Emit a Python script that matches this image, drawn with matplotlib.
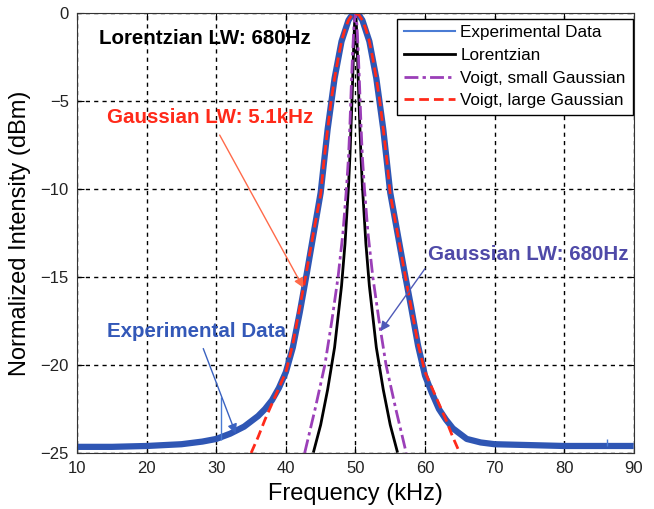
import matplotlib as mpl
mpl.use('Agg')
import matplotlib.pyplot as plt
from matplotlib.lines import Line2D

plt.rcParams['font.family'] = ['Liberation Sans', 'DejaVu Sans']

# experimental spectrum (center of the noisy trace)
exp_freq = [10, 15, 20, 25, 28, 30, 32, 34, 36, 37, 38, 39, 40, 41, 42, 43, 44, 45,
            46, 47, 48, 49, 49.5, 50, 50.5, 51, 52, 53, 54, 55, 56, 57, 58, 59, 60,
            61, 62, 63, 64, 66, 68, 70, 75, 80, 85, 90]
exp_db = [-24.65, -24.65, -24.6, -24.5, -24.35, -24.2, -23.9, -23.5, -22.9, -22.5, -22.0,
          -21.3, -20.4, -19.0, -17.0, -14.8, -12.5, -10.2, -6.6, -3.7, -1.6, -0.4, -0.1,
          0.0, -0.1, -0.4, -1.6, -3.7, -6.6, -10.2, -12.4, -14.6, -16.7, -18.9, -20.6,
          -21.6, -22.5, -23.1, -23.6, -24.2, -24.4, -24.5, -24.55, -24.6, -24.6, -24.6]
spike_freq = [30.7, 86.2]
spike_top = [-21.8, -24.2]
spike_base = [-24.25, -24.6]

# Voigt, large Gaussian (LW 5.1 kHz)
red_freq = [35, 36, 37, 38, 39, 40, 41, 42, 43, 44, 45, 45.5, 46, 46.5, 47, 47.5, 48,
            48.5, 49, 49.5, 50, 50.5, 51, 51.5, 52, 52.5, 53, 53.5, 54, 54.5, 55, 56,
            57, 58, 59, 60, 61, 62, 63, 64, 65]
red_db = [-25.0, -24.1, -23.1, -22.2, -21.3, -20.4, -18.8, -16.7, -14.6, -12.4, -10.3,
          -8.3, -6.6, -5.0, -3.7, -2.6, -1.6, -0.9, -0.4, -0.1, 0.0, -0.1, -0.4, -0.9,
          -1.6, -2.6, -3.7, -5.0, -6.6, -8.3, -10.3, -12.4, -14.6, -16.7, -18.8, -20.4,
          -21.3, -22.2, -23.1, -24.1, -25.0]

# Lorentzian (LW 680 Hz)
lor_freq = [44.0, 45.0, 46.0, 47.0, 48.0, 48.5, 49.0, 49.2, 49.5, 49.7, 49.8, 49.9, 50.0,
            50.1, 50.2, 50.3, 50.5, 50.8, 51.0, 51.5, 52.0, 53.0, 54.0, 55.0, 56.0]
lor_db = [-24.9, -23.4, -21.4, -19.0, -15.5, -13.1, -9.85, -8.2, -5.0, -2.5, -1.3, -0.36,
          0.0, -0.36, -1.3, -2.5, -5.0, -8.2, -9.85, -13.1, -15.5, -19.0, -21.4, -23.4,
          -24.9]

# Voigt, small Gaussian
vs_freq = [42.7, 44.2, 45.6, 46.6, 47.5, 48.2, 48.7, 49.0, 49.2, 49.4, 49.6, 49.8, 50.0,
           50.2, 50.4, 50.6, 50.8, 51.0, 51.3, 51.8, 52.5, 53.4, 54.4, 55.8, 57.3]
vs_db = [-25.0, -22.5, -20.0, -17.5, -15.0, -12.5, -10.0, -8.2, -6.4, -4.2, -2.2, -0.6,
         0.0, -0.6, -2.2, -4.2, -6.4, -8.2, -10.0, -12.5, -15.0, -17.5, -20.0, -22.5,
         -25.0]

blue = '#2f56b4'

fig = plt.figure(figsize=(6.54, 5.09), dpi=100)
ax = fig.add_subplot(111)
plt.subplots_adjust(left=0.118, right=0.969, bottom=0.110, top=0.974)

ax.plot(exp_freq, exp_db, color=blue, linewidth=4.5, solid_capstyle='butt')
ax.vlines(spike_freq, spike_base, spike_top, color='#4a7bd4', linewidth=1)
ax.plot(lor_freq, lor_db, color='black', linewidth=2)
ax.plot(vs_freq, vs_db, color='#9b3fb8', linewidth=2, linestyle=(0, (5, 1.5, 1.2, 1.5)))
ax.plot(red_freq, red_db, color='#ff2a1a', linewidth=2, linestyle=(0, (3.5, 1.8)))

ax.set_xlim(10, 90)
ax.set_ylim(-25, 0)
ax.set_xticks(range(10, 91, 10))
ax.set_yticks(range(-25, 1, 5))
ax.grid(True, color='black', linestyle=(0, (3, 3)), linewidth=1)
ax.tick_params(direction='in', top=True, right=True, labelsize=12, length=5, pad=6,
               labelcolor='#222222')
for s in ax.spines.values():
    s.set_color('#333333')

ax.set_xlabel('Frequency (kHz)', fontsize=17, labelpad=5)
ax.set_ylabel('Normalized Intensity (dBm)', fontsize=17, labelpad=7)

handles = [Line2D([], [], color='#4a7bd4', linewidth=1.5),
           Line2D([], [], color='black', linewidth=2),
           Line2D([], [], color='#9b3fb8', linewidth=2, linestyle=(0, (5, 1.5, 1.2, 1.5))),
           Line2D([], [], color='#ff2a1a', linewidth=2, linestyle=(0, (3.5, 1.8)))]
labels = ['Experimental Data', 'Lorentzian', 'Voigt, small Gaussian', 'Voigt, large Gaussian']
leg = ax.legend(handles, labels, loc='upper right', bbox_to_anchor=(0.998, 0.988),
                fontsize=12.3, fancybox=False, edgecolor='black', framealpha=1,
                handlelength=3.0, borderaxespad=0, labelspacing=0.45,
                handletextpad=0.3, borderpad=0.4)
leg.get_frame().set_linewidth(1)

ax.text(13.1, -1.45, 'Lorentzian LW: 680Hz', fontsize=14.8, fontweight='bold',
        color='black', ha='left', va='center')
ax.annotate('Gaussian LW: 5.1kHz', xy=(42.5, -15.6), xytext=(14.3, -5.95),
            fontsize=14.8, fontweight='bold', color='#ff2a1a', ha='left', va='center',
            arrowprops=dict(arrowstyle='-|>', color='#ff6a4a', lw=1,
                            mutation_scale=14, shrinkA=4, shrinkB=0))
ax.annotate('Experimental Data', xy=(32.8, -23.9), xytext=(14.3, -18.07),
            fontsize=14.8, fontweight='bold', color='#3358b8', ha='left', va='center',
            arrowprops=dict(arrowstyle='-|>', color='#3a62c0', lw=1,
                            mutation_scale=14, shrinkA=4, shrinkB=0))
ax.annotate('Gaussian LW: 680Hz', xy=(53.6, -18.07), xytext=(60.5, -13.7),
            fontsize=14.8, fontweight='bold', color='#4f4aa8', ha='left', va='center',
            arrowprops=dict(arrowstyle='-|>', color='#4f5ab8', lw=1,
                            mutation_scale=14, shrinkA=2, shrinkB=0,
                            relpos=(0, 0.0)))

plt.savefig('out.png', dpi=100)
